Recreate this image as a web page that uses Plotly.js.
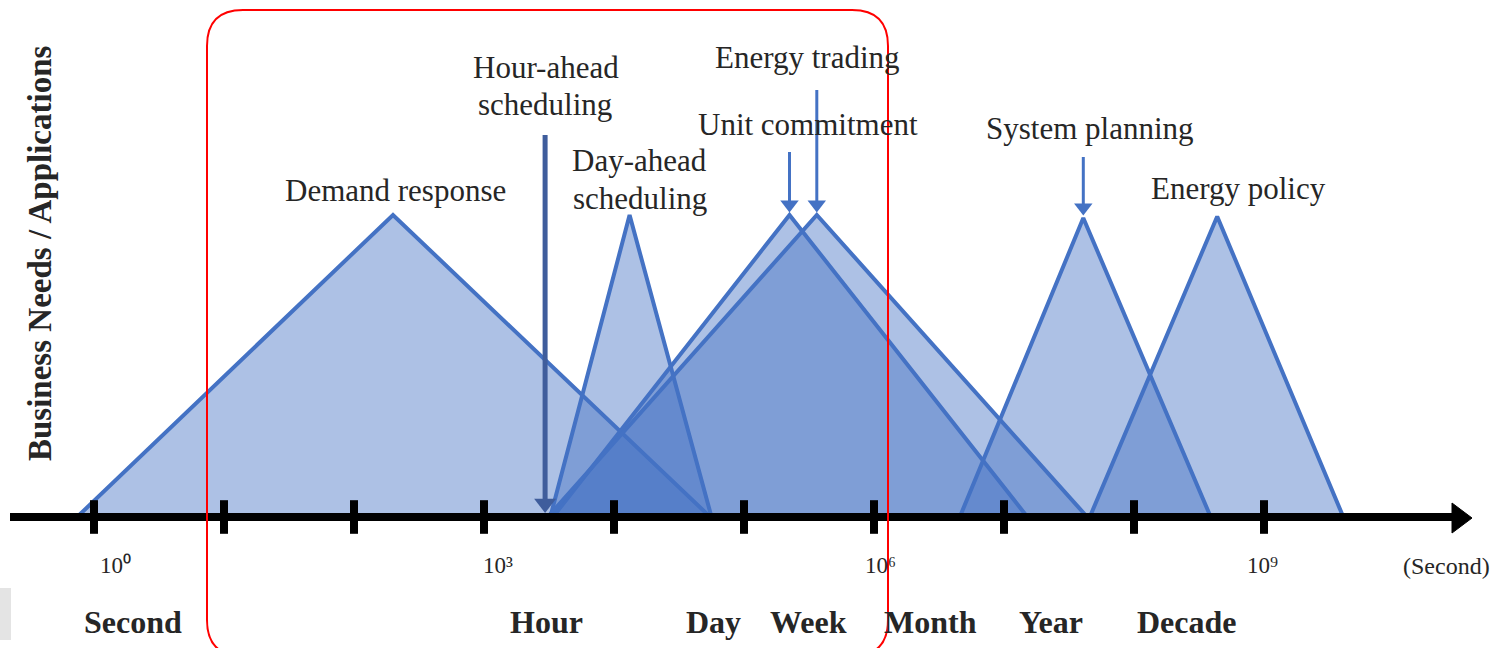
<!DOCTYPE html>
<html>
<head>
<meta charset="utf-8">
<script src="https://cdn.plot.ly/plotly-3.0.1.min.js"></script>
<style>html,body{margin:0;padding:0;background:#fff;}#chart{width:1509px;height:648px;}</style>
</head>
<body>
<div id="chart"></div>
<script>
// ---- data (x in log10 seconds, y = relative level) ----
const apps      = ['Demand response','Day-ahead scheduling','Unit commitment','Energy trading','System planning','Energy policy'];
const startLog  = [-0.13, 3.51, 3.53, 3.49, 6.66, 7.66];
const peakLog   = [ 2.30, 4.12, 5.35, 5.56, 7.61, 8.64];
const endLog    = [ 4.74, 4.75, 7.18, 7.64, 8.59, 9.61];
const peakLevel = [ 1.00, 1.00, 1.00, 1.00, 0.99, 0.995];
const tickExp   = [0,1,2,3,4,5,6,7,8,9];
const expLabels = ['10⁰', '10³', '10⁶', '10⁹'];
const timeUnits = ['Second','Hour','Day','Week','Month','Year','Decade'];
const hourAheadLog = 3.47;

// ---- pixel helpers for layout placement ----
const W = 1509, H = 648;
const X = px => (px - 94) / 130;
const Y = py => (517 - py) / 302;
const PX = px => px / W;
const PY = py => 1 - py / H;

const blue = '#4472C4';
const fill = 'rgba(68,114,196,0.44)';
const serif = '"Liberation Serif","Times New Roman",serif';
const txt = '#262626';

const traces = apps.map((a, i) => ({
  type: 'scatter', mode: 'lines', name: a,
  x: [startLog[i], peakLog[i], endLog[i], startLog[i]],
  y: [0, peakLevel[i], 0, 0],
  fill: 'toself', fillcolor: fill,
  line: {color: blue, width: 4},
  hoverinfo: 'name'
}));

// axis tick marks
traces.push({
  type: 'scatter', mode: 'markers', x: tickExp, y: tickExp.map(() => 0),
  marker: {symbol: 'line-ns-open', size: 24, color: '#000', line: {width: 8, color: '#000'}},
  hoverinfo: 'skip'
});

// arrows (line + triangle head whose tip sits on the target point)
function arrow(xTip, yTip, yTail, color, width, headSize) {
  const r = headSize / 2;
  traces.push({type: 'scatter', mode: 'lines', x: [xTip, xTip], y: [yTail, yTip + r / 302],
    line: {color: color, width: width}, hoverinfo: 'skip'});
  traces.push({type: 'scatter', mode: 'markers', x: [xTip], y: [yTip + r / 302],
    marker: {symbol: 'triangle-down', size: headSize, color: color, line: {width: 0}}, hoverinfo: 'skip'});
}
arrow(hourAheadLog, Y(513), Y(135), '#3F5D9C', 5, 19);
arrow(peakLog[2], peakLevel[2] + 0.008, Y(152), blue, 3, 16);
arrow(peakLog[3], peakLevel[3] + 0.008, Y(90), blue, 3, 16);
arrow(peakLog[4], peakLevel[4] + 0.008, Y(157), blue, 3, 16);

const ann = [];
function label(text, px, py, size, bold) {
  ann.push({text: bold ? '<b>' + text + '</b>' : text, x: X(px), y: Y(py), xref: 'x', yref: 'y',
    showarrow: false, xanchor: 'center', yanchor: 'middle',
    font: {family: serif, size: size, color: txt}});
}
label('Demand response', 395, 190, 31);
label('Hour-ahead', 546, 67, 31);
label('scheduling', 545, 104, 31);
label('Day-ahead', 639, 160, 31);
label('scheduling', 640, 198, 31);
label('Energy trading', 807, 57, 31);
label('Unit commitment', 808, 124, 31);
label('System planning', 1090, 128, 31);
label('Energy policy', 1238, 188, 31);
label('(Second)', 1446, 566, 24);

const expLabelPx = [115, 498, 880, 1262];
expLabels.forEach((t, i) => label(t, expLabelPx[i], 565, 23));

const unitPx = [133, 546, 713, 808, 930, 1051, 1187];
timeUnits.forEach((u, i) => label(u, unitPx[i], 622, 32, true));

// y-axis title
ann.push({text: '<b>Business Needs / Applications</b>', x: PX(40), y: PY(253), xref: 'paper', yref: 'paper',
  showarrow: false, textangle: -90, xanchor: 'center', yanchor: 'middle',
  font: {family: serif, size: 33, color: txt}});

const shapes = [
  // axis line
  {type: 'line', xref: 'paper', yref: 'y', x0: PX(10), x1: PX(1458), y0: 0, y1: 0, line: {color: '#000', width: 8}},
  // axis arrowhead
  {type: 'path', xref: 'paper', yref: 'paper',
   path: `M ${PX(1452)} ${PY(503)} L ${PX(1472)} ${PY(518)} L ${PX(1452)} ${PY(533)} Z`,
   fillcolor: '#000', line: {color: '#000', width: 1}},
  // red rounded rectangle
  {type: 'path', xref: 'paper', yref: 'paper', layer: 'above',
   path: (() => {
     const l = 207, r = 888, t = 10, b = 656, rad = 36;
     return `M ${PX(l)} ${PY(t + rad)} Q ${PX(l)} ${PY(t)} ${PX(l + rad)} ${PY(t)} L ${PX(r - rad)} ${PY(t)} ` +
            `Q ${PX(r)} ${PY(t)} ${PX(r)} ${PY(t + rad)} L ${PX(r)} ${PY(b - rad)} Q ${PX(r)} ${PY(b)} ${PX(r - rad)} ${PY(b)} ` +
            `L ${PX(l + rad)} ${PY(b)} Q ${PX(l)} ${PY(b)} ${PX(l)} ${PY(b - rad)} Z`;
   })(),
   line: {color: '#FF0000', width: 2}},
  // gray box at bottom left
  {type: 'rect', xref: 'paper', yref: 'paper', x0: 0, x1: PX(11), y0: PY(640), y1: PY(588),
   fillcolor: '#E4E4E4', line: {width: 0}}
];

const layout = {
  width: W, height: H,
  margin: {l: 0, r: 0, t: 0, b: 0},
  paper_bgcolor: '#fff', plot_bgcolor: '#fff',
  showlegend: false,
  xaxis: {range: [X(0), X(W)], visible: false, fixedrange: true},
  yaxis: {range: [Y(H), Y(0)], visible: false, fixedrange: true},
  annotations: ann,
  shapes: shapes
};

Plotly.newPlot('chart', traces, layout, {displayModeBar: false, staticPlot: true});
</script>
</body>
</html>
